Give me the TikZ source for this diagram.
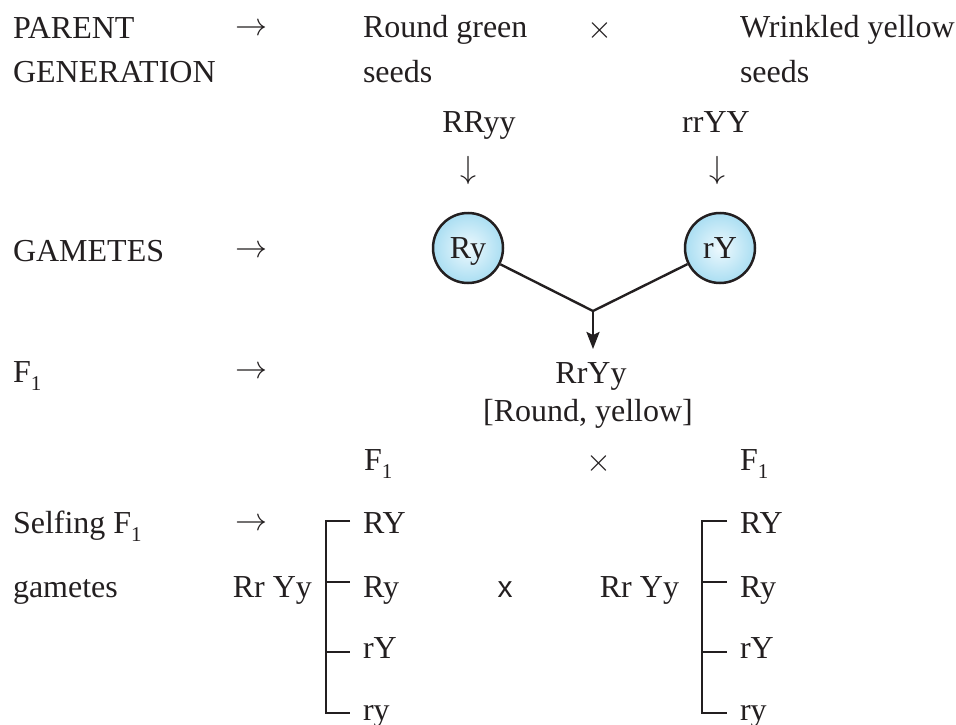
\documentclass[tikz,border=0pt]{standalone}
\usepackage{graphicx}
\usepackage{fontspec}
\setmainfont{Liberation Serif}
\newfontfamily\sansx{Liberation Sans}
\usetikzlibrary{arrows.meta}
\definecolor{ink}{RGB}{35,31,32}
\definecolor{ballin}{RGB}{238,249,254}
\definecolor{ballout}{RGB}{170,222,242}
\newcommand\subone{\raisebox{-8pt}{\fontsize{21}{21}\selectfont 1}}
\newcommand\bigsym[1]{\scalebox{3.2}{\fontsize{10}{12}\selectfont$#1$}}
\tikzset{
  txt/.style={inner sep=0pt, outer sep=0pt, text=ink, font=\fontsize{32}{38}\selectfont},
  lt/.style={txt, anchor=base west},
  ct/.style={txt, anchor=base},
  sym/.style={txt, anchor=center},
  gamete/.style={circle, minimum size=70pt, inner sep=0pt, draw=ink, line width=2.5pt,
    inner color=ballin, outer color=ballout, text=ink, text height=21pt, text depth=0pt,
    font=\fontsize{32}{38}\selectfont},
  conn/.style={draw=ink, line width=2.4pt},
  brk/.style={draw=ink, line width=2.4pt}
}
\begin{document}
\begin{tikzpicture}[x=1pt,y=-1pt]
\useasboundingbox (0,0) rectangle (956,725);
% left column labels
\node[lt] (parent) at (13,39) {PARENT};
\node[lt] (generation) at (13,83) {GENERATION};
\node[lt] (gametesL) at (13,261) {GAMETES};
\node[lt] (f1L) at (13,382) {F\subone};
\node[lt] (selfing) at (13,533) {Selfing F\subone};
\node[lt] (gametes2) at (13,597) {gametes};
% arrows column
\node[sym] (ar1) at (251,30) {\bigsym{\rightarrow}};
\node[sym] (ar2) at (251,252) {\bigsym{\rightarrow}};
\node[sym] (ar3) at (251,373) {\bigsym{\rightarrow}};
\node[sym] (ar4) at (251,525) {\bigsym{\rightarrow}};
% parents
\node[lt] (rg) at (363,38) {Round green};
\node[lt] (rgs) at (363,83) {seeds};
\node[sym] (cross1) at (600,31) {\bigsym{\times}};
\node[lt] (wy) at (740,38) {Wrinkled yellow};
\node[lt] (wys) at (740,83) {seeds};
\node[ct] (RRyy) at (479,132) {RRyy};
\node[ct] (rrYY) at (716,132) {rrYY};
\node[sym] (d1) at (468,170) {\bigsym{\downarrow}};
\node[sym] (d2) at (717,170) {\bigsym{\downarrow}};
% gametes
\node[gamete] (Ry) at (468,248) {Ry};
\node[gamete] (rY) at (720,248) {rY};
\coordinate (join) at (593,311);
\draw[conn] (Ry) -- (join) -- (rY);
\draw[conn, -{Stealth[length=17pt,width=13pt,inset=3pt]}] (join) -- (593,349);
% F1
\node[ct] (RrYy) at (591,383) {RrYy};
\node[ct] (ry2) at (588,421) {[Round, yellow]};
\node[lt] (f1a) at (364,470) {F\subone};
\node[sym] (cross2) at (599,463) {\bigsym{\times}};
\node[lt] (f1b) at (740,470) {F\subone};
% left bracket
\node[txt, anchor=base east] (rrL) at (312,597) {Rr Yy};
\draw[brk] (350,521) -| (326,713) -- (350,713);
\draw[brk] (326,582) -- (350,582);
\draw[brk] (326,652) -- (350,652);
\node[lt] (l1) at (363,533) {RY};
\node[lt] (l2) at (363,597) {Ry};
\node[lt] (l3) at (363,658) {rY};
\node[lt] (l4) at (363,720) {ry};
\node[ct, font=\sansx\fontsize{30}{36}\selectfont] (xx) at (505,597) {x};
% right bracket
\node[txt, anchor=base east] (rrR) at (679,597) {Rr Yy};
\draw[brk] (727,521) -| (702,713) -- (727,713);
\draw[brk] (702,582) -- (727,582);
\draw[brk] (702,652) -- (727,652);
\node[lt] (r1) at (740,533) {RY};
\node[lt] (r2) at (740,597) {Ry};
\node[lt] (r3) at (740,658) {rY};
\node[lt] (r4) at (740,720) {ry};
\end{tikzpicture}
\end{document}
